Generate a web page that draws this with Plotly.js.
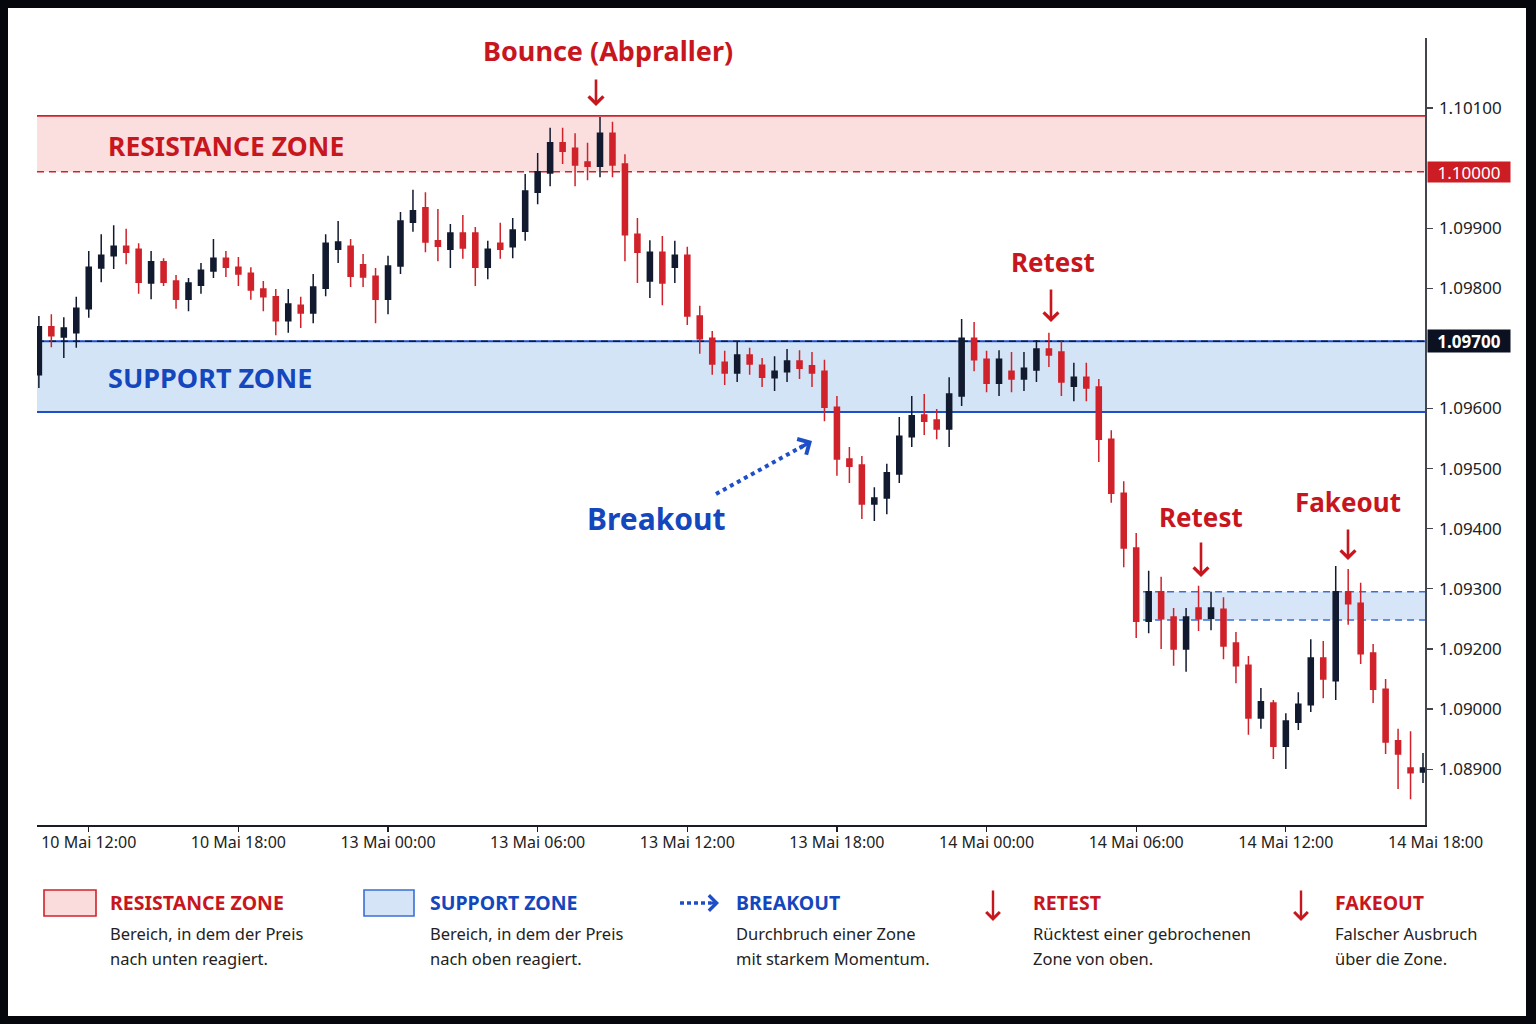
<!DOCTYPE html>
<html>
<head>
<meta charset="utf-8">
<script src="https://cdn.plot.ly/plotly-3.0.1.min.js"></script>
<style>
  html, body { margin: 0; padding: 0; background: #05070d; width: 1536px; height: 1024px; overflow: hidden; }
  #chart { position: absolute; left: 8px; top: 8px; width: 1518px; height: 1008px; background: #ffffff; }
</style>
</head>
<body>
<div id="chart"></div>
<script>
// ---------- DATA ----------
const times = [
"10.05 10:00","10.05 10:30","10.05 11:00","10.05 11:30","10.05 12:00","10.05 12:30","10.05 13:00","10.05 13:30",
"10.05 14:00","10.05 14:30","10.05 15:00","10.05 15:30","10.05 16:00","10.05 16:30","10.05 17:00","10.05 17:30",
"10.05 18:00","10.05 18:30","10.05 19:00","10.05 19:30","10.05 20:00","10.05 20:30","10.05 21:00","10.05 21:30",
"10.05 22:00","10.05 22:30","10.05 23:00","10.05 23:30",
"13.05 00:00","13.05 00:30","13.05 01:00","13.05 01:30","13.05 02:00","13.05 02:30","13.05 03:00","13.05 03:30",
"13.05 04:00","13.05 04:30","13.05 05:00","13.05 05:30","13.05 06:00","13.05 06:30","13.05 07:00","13.05 07:30",
"13.05 08:00","13.05 08:30","13.05 09:00","13.05 09:30","13.05 10:00","13.05 10:30","13.05 11:00","13.05 11:30",
"13.05 12:00","13.05 12:30","13.05 13:00","13.05 13:30","13.05 14:00","13.05 14:30","13.05 15:00","13.05 15:30",
"13.05 16:00","13.05 16:30","13.05 17:00","13.05 17:30","13.05 18:00","13.05 18:30","13.05 19:00","13.05 19:30",
"13.05 20:00","13.05 20:30","13.05 21:00","13.05 21:30","13.05 22:00","13.05 22:30","13.05 23:00","13.05 23:30",
"14.05 00:00","14.05 00:30","14.05 01:00","14.05 01:30","14.05 02:00","14.05 02:30","14.05 03:00","14.05 03:30",
"14.05 04:00","14.05 04:30","14.05 05:00","14.05 05:30","14.05 06:00","14.05 06:30","14.05 07:00","14.05 07:30",
"14.05 08:00","14.05 08:30","14.05 09:00","14.05 09:30","14.05 10:00","14.05 10:30","14.05 11:00","14.05 11:30",
"14.05 12:00","14.05 12:30","14.05 13:00","14.05 13:30","14.05 14:00","14.05 14:30","14.05 15:00","14.05 15:30",
"14.05 16:00","14.05 16:30","14.05 17:00","14.05 17:30"
];

const open = [1.09656,1.09736,1.09719,1.09726,1.09766,1.09834,1.09854,1.09870,1.09865,1.09809,
1.09844,1.09812,1.09782,1.09805,1.09829,1.09850,1.09835,1.09825,1.09799,1.09786,
1.09746,1.09772,1.09759,1.09800,1.09865,1.09870,1.09839,1.09820,1.09782,1.09837,
1.09910,1.09934,1.09879,1.09865,1.09892,1.09892,1.09835,1.09875,1.09869,1.09895,
1.09960,1.09992,1.10042,1.10033,1.10010,1.10003,1.10058,1.10007,1.09890,1.09812,
1.09860,1.09835,1.09855,1.09754,1.09717,1.09677,1.09659,1.09689,1.09672,1.09651,
1.09661,1.09679,1.09671,1.09662,1.09602,1.09516,1.09506,1.09441,1.09451,1.09491,
1.09553,1.09589,1.09581,1.09566,1.09621,1.09717,1.09682,1.09642,1.09662,1.09649,
1.09664,1.09699,1.09694,1.09637,1.09652,1.09636,1.09549,1.09459,1.09368,1.09246,
1.09295,1.09253,1.09200,1.09268,1.09251,1.09266,1.09210,1.09173,1.09085,1.09110,
1.09038,1.09078,1.09107,1.09185,1.09147,1.09295,1.09276,1.09193,1.09133,1.09047,
1.09002,1.08995];

const high = [1.09754,1.09757,1.09752,1.09786,1.09862,1.09890,1.09905,1.09899,1.09875,1.09862,
1.09850,1.09822,1.09817,1.09842,1.09882,1.09862,1.09852,1.09835,1.09812,1.09799,
1.09799,1.09786,1.09824,1.09890,1.09912,1.09882,1.09857,1.09834,1.09854,1.09927,
1.09964,1.09960,1.09932,1.09907,1.09922,1.09902,1.09879,1.09909,1.09917,1.09990,
1.10025,1.10067,1.10067,1.10058,1.10042,1.10085,1.10077,1.10023,1.09917,1.09880,
1.09887,1.09879,1.09869,1.09771,1.09729,1.09696,1.09711,1.09701,1.09684,1.09687,
1.09699,1.09697,1.09694,1.09681,1.09621,1.09536,1.09521,1.09469,1.09508,1.09586,
1.09621,1.09624,1.09599,1.09652,1.09749,1.09744,1.09696,1.09697,1.09694,1.09694,
1.09714,1.09726,1.09712,1.09676,1.09676,1.09649,1.09564,1.09479,1.09393,1.09330,
1.09320,1.09268,1.09268,1.09305,1.09295,1.09286,1.09228,1.09188,1.09135,1.09115,
1.09093,1.09128,1.09216,1.09213,1.09338,1.09333,1.09310,1.09208,1.09150,1.09067,
1.09063,1.09027];

const low = [1.09634,1.09702,1.09684,1.09701,1.09751,1.09810,1.09832,1.09840,1.09791,1.09782,
1.09804,1.09766,1.09762,1.09791,1.09817,1.09819,1.09804,1.09781,1.09762,1.09722,
1.09726,1.09734,1.09742,1.09787,1.09842,1.09802,1.09802,1.09742,1.09757,1.09824,
1.09894,1.09860,1.09845,1.09834,1.09849,1.09804,1.09815,1.09849,1.09850,1.09879,
1.09940,1.09970,1.10007,1.09970,1.09980,1.09985,1.09985,1.09845,1.09809,1.09784,
1.09772,1.09809,1.09739,1.09691,1.09656,1.09639,1.09644,1.09656,1.09636,1.09629,
1.09644,1.09649,1.09636,1.09579,1.09488,1.09476,1.09416,1.09413,1.09424,1.09476,
1.09536,1.09556,1.09549,1.09536,1.09604,1.09662,1.09627,1.09621,1.09627,1.09629,
1.09644,1.09669,1.09621,1.09612,1.09612,1.09511,1.09443,1.09336,1.09218,1.09226,
1.09200,1.09172,1.09162,1.09230,1.09231,1.09183,1.09143,1.09057,1.09067,1.09017,
1.09000,1.09065,1.09095,1.09118,1.09115,1.09240,1.09175,1.09110,1.09025,1.08967,
1.08950,1.08977];

const close = [1.09736,1.09721,1.09734,1.09767,1.09835,1.09855,1.09870,1.09860,1.09810,1.09844,
1.09810,1.09782,1.09809,1.09830,1.09850,1.09835,1.09824,1.09797,1.09786,1.09746,
1.09774,1.09759,1.09802,1.09875,1.09877,1.09820,1.09819,1.09782,1.09837,1.09912,
1.09929,1.09877,1.09870,1.09892,1.09867,1.09835,1.09865,1.09865,1.09897,1.09962,
1.09994,1.10042,1.10028,1.10005,1.10003,1.10058,1.10005,1.09889,1.09860,1.09860,
1.09809,1.09855,1.09754,1.09716,1.09674,1.09659,1.09689,1.09674,1.09652,1.09662,
1.09679,1.09667,1.09659,1.09602,1.09516,1.09504,1.09441,1.09451,1.09493,1.09554,
1.09588,1.09579,1.09566,1.09624,1.09717,1.09681,1.09642,1.09682,1.09649,1.09667,
1.09699,1.09689,1.09644,1.09652,1.09634,1.09549,1.09459,1.09368,1.09246,1.09295,
1.09250,1.09200,1.09253,1.09250,1.09268,1.09205,1.09172,1.09085,1.09112,1.09038,
1.09080,1.09108,1.09185,1.09150,1.09295,1.09275,1.09192,1.09133,1.09045,1.09025,
1.08994,1.09002];

// zones (price levels)
const resistanceZone = [1.09994, 1.10087];
const supportZone = [1.09594, 1.09712];
const retestZone = [1.09248, 1.09295];
const retestZoneStart = 88.55; // candle index where the small zone begins

// axis ticks
const xTickVals = ["10.05 12:00","10.05 18:00","13.05 00:00","13.05 06:00","13.05 12:00","13.05 18:00","14.05 00:00","14.05 06:00","14.05 12:00"];
const xTickText = ["10 Mai 12:00","10 Mai 18:00","13 Mai 00:00","13 Mai 06:00","13 Mai 12:00","13 Mai 18:00","14 Mai 00:00","14 Mai 06:00","14 Mai 12:00"];
const yTickVals = [1.101, 1.099, 1.098, 1.096, 1.095, 1.094, 1.093, 1.092, 1.091, 1.090];
const yTickText = ["1.10100","1.09900","1.09800","1.09600","1.09500","1.09400","1.09300","1.09200","1.09000","1.08900"];

// ---------- STYLE ----------
const RED = '#d0222a', RED_TXT = '#c8161e', NAVY = '#111a2e', BLUE = '#1f4fc8', BLUE_TXT = '#1446bd';
const FONT = '"Noto Sans", "Open Sans", sans-serif';

// page-pixel -> paper helpers (for annotation placement)
const PL = 37, PR = 1425, PT = 38, PB = 825;
const px = x => (x - PL) / (PR - PL);
const py = y => (PB - y) / (PB - PT);

const trace = {
  type: 'candlestick',
  x: times, open: open, high: high, low: low, close: close,
  increasing: { line: { color: NAVY, width: 1.5 }, fillcolor: NAVY },
  decreasing: { line: { color: RED, width: 1.5 }, fillcolor: RED },
  whiskerwidth: 0,
  hoverinfo: 'skip',
  showlegend: false
};

const shapes = [
  // resistance zone
  { type: 'rect', xref: 'paper', yref: 'y', x0: 0, x1: 1, y0: resistanceZone[0], y1: resistanceZone[1],
    fillcolor: 'rgba(244,170,170,0.38)', line: { width: 0 }, layer: 'below' },
  { type: 'line', xref: 'paper', yref: 'y', x0: 0, x1: 1, y0: resistanceZone[1], y1: resistanceZone[1],
    line: { color: RED, width: 1.6 }, layer: 'below' },
  { type: 'line', xref: 'paper', yref: 'y', x0: 0, x1: 1, y0: resistanceZone[0], y1: resistanceZone[0],
    line: { color: RED, width: 1.6, dash: '7px,5px' }, layer: 'below' },
  // support zone
  { type: 'rect', xref: 'paper', yref: 'y', x0: 0, x1: 1, y0: supportZone[0], y1: supportZone[1],
    fillcolor: 'rgba(165,198,238,0.48)', line: { width: 0 }, layer: 'below' },
  { type: 'line', xref: 'paper', yref: 'y', x0: 0, x1: 1, y0: supportZone[1], y1: supportZone[1],
    line: { color: BLUE, width: 2 }, layer: 'below' },
  { type: 'line', xref: 'paper', yref: 'y', x0: 0, x1: 1, y0: supportZone[1], y1: supportZone[1],
    line: { color: NAVY, width: 1.6, dash: '7px,5px' }, layer: 'below' },
  { type: 'line', xref: 'paper', yref: 'y', x0: 0, x1: 1, y0: supportZone[0], y1: supportZone[0],
    line: { color: BLUE, width: 2 }, layer: 'below' },
  // small retest zone
  { type: 'rect', xref: 'x', yref: 'y', x0: retestZoneStart, x1: 111.16, y0: retestZone[0], y1: retestZone[1],
    fillcolor: 'rgba(165,198,238,0.45)', line: { width: 0 }, layer: 'below' },
  { type: 'line', xref: 'x', yref: 'y', x0: retestZoneStart, x1: 111.16, y0: retestZone[1], y1: retestZone[1],
    line: { color: '#3a6fd6', width: 1.4, dash: '7px,5px' }, layer: 'below' },
  { type: 'line', xref: 'x', yref: 'y', x0: retestZoneStart, x1: 111.16, y0: retestZone[0], y1: retestZone[0],
    line: { color: '#3a6fd6', width: 1.4, dash: '7px,5px' }, layer: 'below' },
  // breakout dotted arrow shaft (chart)
  { type: 'line', xref: 'paper', yref: 'paper', x0: px(716), y0: py(494), x1: px(803), y1: py(446),
    line: { color: BLUE, width: 4, dash: '4px,4px' } },
  // legend: resistance box
  { type: 'rect', xref: 'paper', yref: 'paper', x0: px(44), x1: px(96), y0: py(916), y1: py(890),
    fillcolor: '#fbdcdc', line: { color: RED, width: 1.6 } },
  // legend: support box
  { type: 'rect', xref: 'paper', yref: 'paper', x0: px(364), x1: px(414), y0: py(916), y1: py(890),
    fillcolor: '#d6e4f7', line: { color: '#3a6fd6', width: 1.6 } },
  // legend: dotted arrow shaft
  { type: 'line', xref: 'paper', yref: 'paper', x0: px(680), y0: py(903), x1: px(711), y1: py(903),
    line: { color: BLUE, width: 3.5, dash: '4px,3px' } }
];

function txt(text, x, y, size, color, opts) {
  return Object.assign({
    text: text, xref: 'paper', yref: 'paper', x: px(x), y: py(y),
    xanchor: 'center', yanchor: 'middle', showarrow: false,
    font: { family: FONT, size: size, color: color }
  }, opts || {});
}
function bold(t) { return '<b>' + t + '</b>'; }
function arrowDown(x, yTip, len, color, width) {
  return { text: '', xref: 'paper', yref: 'paper', x: px(x), y: py(yTip), ax: 0, ay: -len,
    showarrow: true, arrowhead: 4, arrowsize: 1.1, arrowwidth: width, arrowcolor: color };
}

const annotations = [
  txt(bold('Bounce (Abpraller)'), 608, 50, 27, RED_TXT),
  arrowDown(596, 106, 28, RED_TXT, 2.6),
  txt(bold('RESISTANCE ZONE'), 106, 146, 26.5, RED_TXT, { xanchor: 'left' }),
  txt(bold('SUPPORT ZONE'), 106, 377, 27, BLUE_TXT, { xanchor: 'left' }),
  txt(bold('Retest'), 1053, 262, 26, RED_TXT),
  arrowDown(1051, 322, 34, RED_TXT, 2.6),
  txt(bold('Breakout'), 656, 519, 30, BLUE_TXT),
  { text: '', xref: 'paper', yref: 'paper', x: px(812), y: py(441), ax: -14, ay: 8,
    showarrow: true, arrowhead: 4, arrowsize: 1.0, arrowwidth: 3.5, arrowcolor: BLUE },
  txt(bold('Retest'), 1201, 517, 26, RED_TXT),
  arrowDown(1201, 577, 36, RED_TXT, 2.6),
  txt(bold('Fakeout'), 1348, 502, 26, RED_TXT),
  arrowDown(1348, 560, 32, RED_TXT, 2.6),
  // price tags on axis
  { text: '1.10000', xref: 'paper', yref: 'y', x: px(1427), y: resistanceZone[0], xanchor: 'left', yanchor: 'middle',
    showarrow: false, bgcolor: '#cc1c24', width: 80, height: 18, borderpad: 1,
    font: { family: FONT, size: 17, color: '#ffffff' } },
  { text: bold('1.09700'), xref: 'paper', yref: 'y', x: px(1427), y: supportZone[1], xanchor: 'left', yanchor: 'middle',
    showarrow: false, bgcolor: '#0b1120', width: 80, height: 20, borderpad: 1,
    font: { family: FONT, size: 17, color: '#ffffff' } },
  // last x label (beyond the plotted range)
  txt('14 Mai 18:00', 1435, 842, 16, '#222222'),
  // legend
  txt(bold('RESISTANCE ZONE'), 108, 902, 19.5, RED_TXT, { xanchor: 'left' }),
  txt('Bereich, in dem der Preis', 108, 933, 16.5, '#222222', { xanchor: 'left' }),
  txt('nach unten reagiert.', 108, 958, 16.5, '#222222', { xanchor: 'left' }),
  txt(bold('SUPPORT ZONE'), 428, 902, 19.5, BLUE_TXT, { xanchor: 'left' }),
  txt('Bereich, in dem der Preis', 428, 933, 16.5, '#222222', { xanchor: 'left' }),
  txt('nach oben reagiert.', 428, 958, 16.5, '#222222', { xanchor: 'left' }),
  { text: '', xref: 'paper', yref: 'paper', x: px(719), y: py(903), ax: -10, ay: 0,
    showarrow: true, arrowhead: 4, arrowsize: 1.0, arrowwidth: 3, arrowcolor: BLUE },
  txt(bold('BREAKOUT'), 734, 902, 19.5, BLUE_TXT, { xanchor: 'left' }),
  txt('Durchbruch einer Zone', 734, 933, 16.5, '#222222', { xanchor: 'left' }),
  txt('mit starkem Momentum.', 734, 958, 16.5, '#222222', { xanchor: 'left' }),
  arrowDown(993, 921, 32, RED_TXT, 2.4),
  txt(bold('RETEST'), 1031, 902, 19.5, RED_TXT, { xanchor: 'left' }),
  txt('Rücktest einer gebrochenen', 1031, 933, 16.5, '#222222', { xanchor: 'left' }),
  txt('Zone von oben.', 1031, 958, 16.5, '#222222', { xanchor: 'left' }),
  arrowDown(1301, 921, 32, RED_TXT, 2.4),
  txt(bold('FAKEOUT'), 1333, 902, 19.5, RED_TXT, { xanchor: 'left' }),
  txt('Falscher Ausbruch', 1333, 933, 16.5, '#222222', { xanchor: 'left' }),
  txt('über die Zone.', 1333, 958, 16.5, '#222222', { xanchor: 'left' })
];

const layout = {
  width: 1518, height: 1008,
  margin: { l: PL - 8, r: 1526 - PR, t: PT - 8, b: 1016 - PB, pad: 0 },
  paper_bgcolor: '#ffffff', plot_bgcolor: '#ffffff',
  font: { family: FONT, size: 15, color: '#222222' },
  showlegend: false,
  boxgap: 0.42,
  xaxis: {
    type: 'category', range: [-0.15, 111.16], rangeslider: { visible: false },
    tickvals: xTickVals, ticktext: xTickText,
    showgrid: false, zeroline: false,
    showline: true, linecolor: '#1c1c24', linewidth: 1.5,
    ticks: 'outside', ticklen: 5, tickcolor: '#1c1c24', tickwidth: 1.2,
    ticklabelstandoff: -3,
    tickfont: { family: FONT, size: 16, color: '#222222' }
  },
  yaxis: {
    side: 'right', range: [1.089070, 1.102165],
    tickvals: yTickVals, ticktext: yTickText,
    showgrid: false, zeroline: false,
    showline: true, linecolor: '#44464f', linewidth: 1.5,
    ticks: 'outside', ticklen: 6, tickcolor: '#44464f', tickwidth: 1.2,
    ticklabelstandoff: 3,
    tickfont: { family: FONT, size: 17, color: '#222222' }
  },
  shapes: shapes,
  annotations: annotations
};

Plotly.newPlot('chart', [trace], layout, { displayModeBar: false, staticPlot: true });
</script>
</body>
</html>
